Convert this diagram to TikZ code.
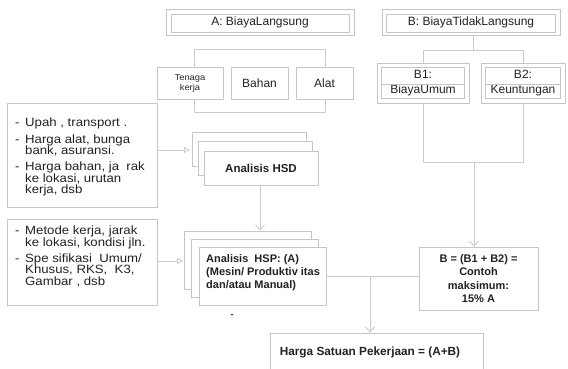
\documentclass[tikz,border=0pt]{standalone}
\usepackage{fontspec}
\setmainfont{Liberation Sans}
\newfontfamily\widefont[FakeStretch=1.1]{Liberation Sans}
\usetikzlibrary{arrows.meta,backgrounds}

\definecolor{edge}{HTML}{C6C6C6}
\definecolor{wire}{HTML}{CACACA}
\definecolor{ink}{HTML}{222222}

\tikzset{
  box/.style={draw=edge,fill=white,line width=0.9pt,inner sep=0pt,text=ink,align=center},
  innerframe/.style={draw=edge,line width=0.7pt},
  wireline/.style={draw=wire,line width=0.8pt},
  downarrow/.style={wireline,-{Straight Barb[length=5pt,width=9pt]}},
  sidearrow/.style={wireline,-{Triangle[open,length=6pt,width=6pt]}},
  notes/.style={anchor=north west,inner sep=0pt,align=left,text=ink,
    font=\widefont\fontsize{12}{11.2}\selectfont},
  reg/.style={font=\fontsize{12}{15}\selectfont},
  heavy/.style={font=\bfseries\fontsize{11}{13.2}\selectfont},
}
\newcommand\itm{\makebox[10pt][l]{-}}
\newcommand\cnt{\hspace*{10pt}}

\begin{document}
\begin{tikzpicture}[x=1pt,y=-1pt]
\useasboundingbox (0,0) rectangle (568,369);
\clip (0,0) rectangle (568,369);
\fill[white] (0,0) rectangle (568,369);

% direct costs
\node[box,reg,minimum width=188pt,minimum height=26pt] (A) at (260,22) {A: BiayaLangsung};
\draw[innerframe] ([shift={(6pt,-6pt)}]A.north west) rectangle ([shift={(-5pt,3pt)}]A.south east);
\node[box,minimum width=66pt,minimum height=32pt,font=\widefont\fontsize{8.5}{10}\selectfont] (T) at (190,83) {Tenaga\\kerja};
\node[box,reg,minimum width=57pt,minimum height=32pt] (Bh) at (259.5,83) {Bahan};
\node[box,reg,minimum width=57pt,minimum height=32pt] (Al) at (324.5,83) {Alat};

% indirect costs
\node[box,reg,minimum width=178pt,minimum height=26pt] (B) at (471,22) {B: BiayaTidakLangsung};
\draw[innerframe] ([shift={(5pt,-6pt)}]B.north west) rectangle ([shift={(-5pt,3pt)}]B.south east);
\node[box,reg,minimum width=92pt,minimum height=40pt] (B1) at (423,83) {B1:\\BiayaUmum};
\node[box,reg,minimum width=84pt,minimum height=40pt] (B2) at (523,83) {B2:\\Keuntungan};
\foreach \n in {B1,B2}{
  \draw[innerframe] ([shift={(5pt,-5pt)}]\n.north west) rectangle ([shift={(-5pt,5pt)}]\n.south east);
  \draw[innerframe] ([shift={(5pt,-1pt)}]\n.west) -- ([shift={(-5pt,-1pt)}]\n.east);
}

% input notes
\node[box,minimum width=150pt,minimum height=104pt] (L1) at (82,155) {};
\node[notes] (L1t) at (15,117.5) {\itm Upah , transport .\\[5.5pt]
  \itm Harga alat, bunga\\ \cnt bank, asuransi.\\[5.5pt]
  \itm Harga bahan, ja\ \ rak\\ \cnt ke lokasi, urutan\\ \cnt kerja, dsb};
\node[box,minimum width=150pt,minimum height=86pt] (L2) at (82,262) {};
\node[notes] (L2t) at (15,226) {\itm Metode kerja, jarak\\ \cnt ke lokasi, kondisi jln.\\[5.5pt]
  \itm Spe sifikasi\ \ Umum/\\ \cnt Khusus, RKS,\ \ K3,\\ \cnt Gambar , dsb};

% spine behind the A column
\begin{scope}[on background layer]
  \draw[wireline] (A.south) -- (260,132);
\end{scope}

% analysis stacks
\node[box,minimum width=114pt,minimum height=34pt] (Hb) at (249,149) {};
\node[box,minimum width=114pt,minimum height=34pt] (Hm) at (255,158) {};
\node[box,heavy,minimum width=114pt,minimum height=34pt,font=\bfseries\fontsize{11.5}{13}\selectfont] (Hf) at (261,168) {Analisis HSD};

\node[box,minimum width=127pt,minimum height=58pt] (Pb) at (248,260) {};
\node[box,minimum width=127pt,minimum height=58pt] (Pm) at (255,268) {};
\node[box,minimum width=127pt,minimum height=58pt] (Pf) at (262.5,276) {};
\node[heavy,anchor=north west,inner sep=0pt,align=left,text=ink] (Pt) at (206,254) {Analisis\ \ HSP: (A)\\(Mesin/ Produktiv itas\\dan/atau Manual)};
\node[text=ink,inner sep=0pt,font=\bfseries\fontsize{9}{10}\selectfont] (dot) at (232,316) {-};

\node[box,heavy,minimum width=119pt,minimum height=63pt,font=\bfseries\fontsize{11}{13.3}\selectfont] (Bs) at (478.5,278.5) {B = (B1 + B2) =\\Contoh\\maksimum:\\15\% A};

\node[box,minimum width=213pt,minimum height=40pt] (H) at (376.5,353) {};
\node[inner sep=0pt,text=ink,font=\bfseries\fontsize{11.8}{14}\selectfont] (Ht) at (370,352) {Harga Satuan Pekerjaan = (A+B)};

% A brackets
\coordinate (ta) at (194,49);
\coordinate (tb) at (325,49);
\coordinate (ba) at (194,112);
\coordinate (bb) at (325,112);
\draw[wireline] (ta |- T.north) -- (ta) -- (tb) -- (tb |- Al.north);
\draw[wireline] (ba |- T.south) -- (ba) -- (bb) -- (bb |- Al.south);

% B brackets
\coordinate (ua) at (423,50);
\coordinate (ub) at (523,50);
\draw[wireline] (B.south -| 473,0) -- (473,50);
\draw[wireline] (ua |- B1.north) -- (ua) -- (ub) -- (ub |- B2.north);
\coordinate (va) at (423,162);
\coordinate (vb) at (523,162);
\coordinate (vm) at (474,162);
\draw[wireline] (B1.south) -- (va) -- (vb) -- (B2.south);
\draw[downarrow] (vm) -- (vm |- Bs.north);

% inputs into the analyses
\draw[sidearrow] (L1.east |- 0,150) -- (190,150);
\draw[sidearrow] (L2.east |- 0,261) -- (183,261);
\draw[downarrow] (Hf.south -| 260,0) -- (260,230.5);

% totals
\coordinate (j) at (370,276);
\draw[wireline] (Pf.east) -- (Bs.west |- Pf.east);
\draw[downarrow] (j) -- (j |- H.north);
\end{tikzpicture}
\end{document}
